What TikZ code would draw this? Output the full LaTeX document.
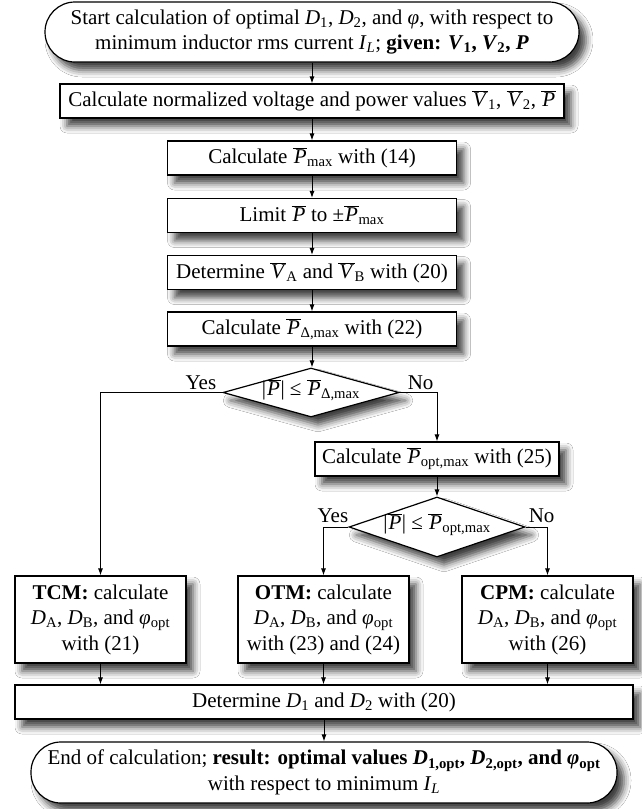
\documentclass[tikz,border=0pt]{standalone}
\usepackage[no-math]{fontspec}
\setmainfont{Liberation Serif}
\usetikzlibrary{shapes.geometric,arrows.meta,shadows.blur}
\newcommand{\isub}[2]{\textit{#1}\textsubscript{#2}}
\newcommand{\barP}{$\overline{\mbox{\kern1pt\textit{P}\kern0.5pt}}$}
\newcommand{\barV}{$\overline{\mbox{\kern1pt\textit{V}\kern0.5pt}}$}

\begin{document}
\begin{tikzpicture}[x=1pt,y=-1pt]
    \tikzset{box/.style={rectangle, draw, line width=1.2pt, fill=white, align=center, inner sep=0pt, font=\fontsize{21}{25.5}\selectfont, blur shadow={shadow xshift=7pt, shadow yshift=-8pt, shadow blur radius=7pt, shadow opacity=75}}};
    \tikzset{pill/.style={box, rounded corners=30pt}};
    \tikzset{decision/.style={box, diamond, text height=1.4ex, text depth=.3ex}};
    \tikzset{lbl/.style={font=\fontsize{21}{25.5}\selectfont, inner sep=1pt}};
    \tikzset{arr/.style={-{Latex[length=7pt,width=5pt]}, line width=0.9pt}};
    \fill[white] (0,0) rectangle (642,809);
    \useasboundingbox (0,0) rectangle (642,809);
    \node[pill, minimum width=534pt, minimum height=60pt] (start) at (312,32) {Start calculation of optimal \isub{D}{1}, \isub{D}{2}, and \textit{φ}, with respect to\\ minimum inductor rms current \isub{I}{\textit{L}}; \textbf{given: \isub{V}{1}, \isub{V}{2}, \textit{P}}};
    \node[box, minimum width=504pt, minimum height=34pt] (norm) at (312,101) {Calculate normalized voltage and power values \barV\textsubscript{1}, \barV\textsubscript{2}, \barP};
    \node[box, minimum width=289pt, minimum height=34pt] (pmax) at (312,158) {Calculate \barP\textsubscript{max} with (14)};
    \node[box, minimum width=289pt, minimum height=34pt] (limit) at (312,215.5) {Limit \barP{} to ±\barP\textsubscript{max}};
    \node[box, minimum width=289pt, minimum height=34pt] (vab) at (312,272.5) {Determine \barV\textsubscript{A} and \barV\textsubscript{B} with (20)};
    \node[box, minimum width=289pt, minimum height=34pt] (pdelta) at (312,329) {Calculate \barP\textsubscript{Δ,max} with (22)};
    \node[decision, minimum width=176pt, minimum height=49pt] (dec1) at (311,392.5) {\makebox[0pt]{|\barP| ≤ \barP\textsubscript{Δ,max}}};
    \node[box, minimum width=244pt, minimum height=34pt] (popt) at (437,459) {Calculate \barP\textsubscript{opt,max} with (25)};
    \node[decision, minimum width=176pt, minimum height=60pt] (dec2) at (437,527) {\makebox[0pt]{|\barP| ≤ \barP\textsubscript{opt,max}}};
    \node[box, minimum width=171pt, minimum height=87pt] (tcm) at (100.5,619.5) {\textbf{TCM:} calculate\\ \isub{D}{A}, \isub{D}{B}, and \isub{φ}{opt}\\ with (21)};
    \node[box, minimum width=171pt, minimum height=87pt] (otm) at (323.5,619.5) {\textbf{OTM:} calculate\\ \isub{D}{A}, \isub{D}{B}, and \isub{φ}{opt}\\ with (23) and (24)};
    \node[box, minimum width=171pt, minimum height=87pt] (cpm) at (547.5,619.5) {\textbf{CPM:} calculate\\ \isub{D}{A}, \isub{D}{B}, and \isub{φ}{opt}\\ with (26)};
    \node[box, minimum width=618pt, minimum height=34pt] (det) at (324,702) {Determine \isub{D}{1} and \isub{D}{2} with (20)};
    \node[pill, minimum width=586pt, minimum height=61pt] (end) at (324,772.5) {End of calculation; \textbf{result: optimal values \isub{D}{1,opt}, \isub{D}{2,opt}, and \isub{φ}{opt}}\\ with respect to minimum \isub{I}{\textit{L}}};
    \node[lbl, anchor=south east, xshift=-5pt, yshift=2pt] (yes1) at (dec1.west) {Yes};
    \node[lbl, anchor=south west, xshift=7pt, yshift=2pt] (no1) at (dec1.east) {No};
    \node[lbl, anchor=south east, xshift=1pt, yshift=3pt] (yes2) at (dec2.west) {Yes};
    \node[lbl, anchor=south west, xshift=2pt, yshift=3pt] (no2) at (dec2.east) {No};
    \draw[arr] (start) -- (norm);
    \draw[arr] (norm) -- (pmax);
    \draw[arr] (pmax) -- (limit);
    \draw[arr] (limit) -- (vab);
    \draw[arr] (vab) -- (pdelta);
    \draw[arr] (pdelta.south) -- (pdelta.south |- dec1.north);
    \draw[arr] (dec1.west) -| (tcm.north);
    \draw[arr] (dec1.east) -| (popt.north);
    \draw[arr] (popt) -- (dec2);
    \draw[arr] (dec2.west) -| (otm.north);
    \draw[arr] (dec2.east) -| (cpm.north);
    \draw[arr] (tcm.south) -- (tcm.south |- det.north);
    \draw[arr] (otm.south) -- (otm.south |- det.north);
    \draw[arr] (cpm.south) -- (cpm.south |- det.north);
    \draw[arr] (det) -- (end);
\end{tikzpicture}
\end{document}
